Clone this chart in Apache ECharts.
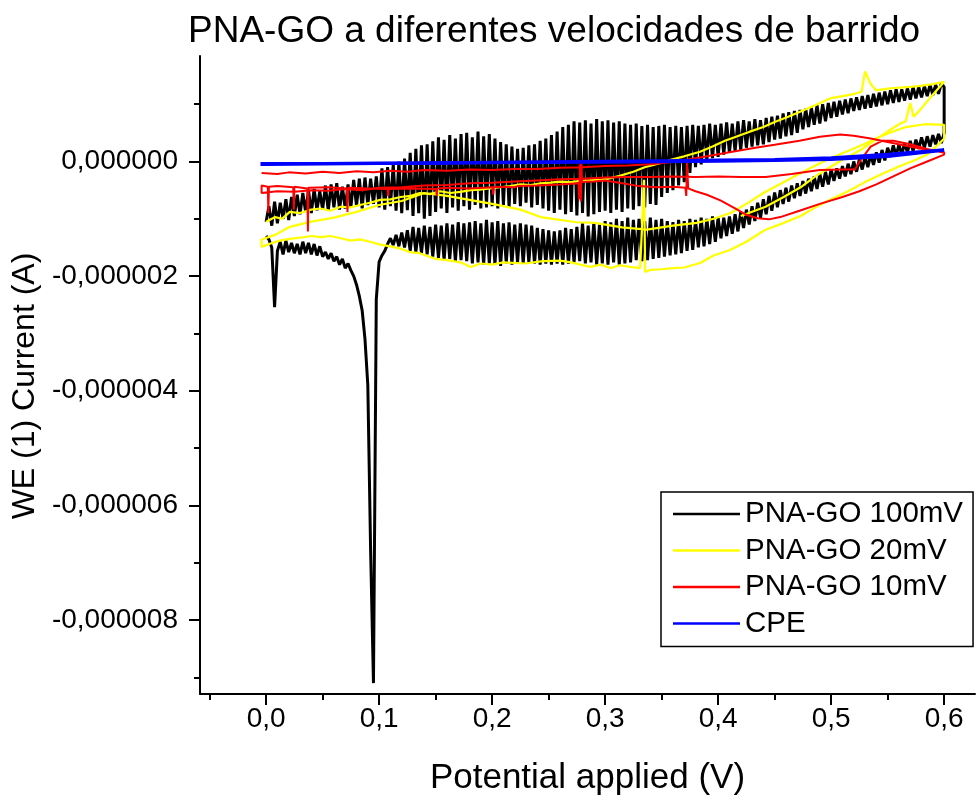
<!DOCTYPE html>
<html>
<head>
<meta charset="utf-8">
<title>PNA-GO a diferentes velocidades de barrido</title>
<script src="https://cdn.jsdelivr.net/npm/echarts@6/dist/echarts.min.js"></script>
<style>
  html, body { margin: 0; padding: 0; background: #fff; }
  #chart { width: 978px; height: 801px; }
</style>
</head>
<body>
<div id="chart"></div>
<script>
// Cyclic voltammograms of PNA-GO at three scan rates plus bare CPE.
// Currents are in microamperes; axis labels print them in amperes.

// 100 mV/s scan: currents on a uniform potential grid (V)
const blackStep = 0.0025;
const blackForward = [
  -1.05, -0.78, -1.12, -0.70, -1.08, -0.72, -1.00, -0.66, -1.02, -0.62,
  -0.95, -0.58, -0.92, -0.55, -0.88, -0.50, -0.90, -0.48, -0.85, -0.52,
  -0.84, -0.42, -0.86, -0.40, -0.80, -0.38, -0.84, -0.44, -0.82, -0.40,
  -0.80, -0.32, -0.78, -0.30, -0.82, -0.28, -0.76, -0.30, -0.74, -0.26,
  -0.80, -0.12, -0.84, -0.10, -0.78, -0.05, -0.86, 0.00, -0.90, 0.05,
  -0.85, 0.15, -0.95, 0.22, -0.90, 0.28, -1.00, 0.30, -0.95, 0.35,
  -0.88, 0.42, -0.82, 0.38, -0.90, 0.46, -0.80, 0.40, -0.86, 0.48,
  -0.78, 0.50, -0.84, 0.42, -0.76, 0.52, -0.82, 0.44, -0.80, 0.48,
  -0.78, 0.40, -0.82, 0.34, -0.76, 0.30, -0.80, 0.26, -0.74, 0.22,
  -0.78, 0.24, -0.72, 0.28, -0.80, 0.30, -0.76, 0.36, -0.82, 0.40,
  -0.86, 0.46, -0.90, 0.52, -0.84, 0.60, -0.92, 0.64, -0.88, 0.70,
  -0.94, 0.68, -0.90, 0.72, -0.96, 0.66, -0.92, 0.74, -0.88, 0.70,
  -0.86, 0.72, -0.90, 0.68, -0.84, 0.70, -0.88, 0.66, -0.82, 0.64,
  -0.84, 0.66, -0.78, 0.62, -0.80, 0.64, -0.74, 0.60, -0.76, 0.62,
  -0.62, 0.64, -0.55, 0.60, -0.50, 0.62, -0.42, 0.60, -0.36, 0.62,
  -0.20, 0.64, -0.10, 0.62, -0.05, 0.64, 0.02, 0.66, 0.06, 0.64,
  0.08, 0.66, 0.12, 0.68, 0.15, 0.66, 0.18, 0.70, 0.20, 0.72,
  0.24, 0.70, 0.26, 0.74, 0.28, 0.72, 0.30, 0.76, 0.34, 0.78,
  0.38, 0.80, 0.40, 0.84, 0.44, 0.86, 0.46, 0.88, 0.50, 0.90,
  0.56, 0.92, 0.60, 0.94, 0.64, 0.98, 0.66, 1.00, 0.70, 1.02,
  0.76, 1.04, 0.78, 1.06, 0.82, 1.08, 0.84, 1.10, 0.88, 1.12,
  0.90, 1.14, 0.92, 1.16, 0.94, 1.18, 0.96, 1.20, 0.98, 1.22,
  1.00, 1.24, 1.02, 1.26, 1.04, 1.26, 1.06, 1.28, 1.08, 1.30,
  1.10, 1.30, 1.12, 1.32, 1.14, 1.34, 1.16, 1.34, 1.18, 1.36,
  1.30
];
// return sweep, starting at 0.6 V and stepping down
const blackReverse = [
  0.50, 0.32, 0.48, 0.30, 0.46, 0.26, 0.44, 0.24, 0.42, 0.22,
  0.38, 0.18, 0.36, 0.16, 0.32, 0.12, 0.30, 0.10, 0.28, 0.08,
  0.24, 0.02, 0.20, -0.02, 0.16, -0.06, 0.12, -0.10, 0.08, -0.14,
  0.04, -0.18, 0.00, -0.22, -0.04, -0.26, -0.08, -0.30, -0.12, -0.34,
  -0.14, -0.40, -0.18, -0.44, -0.22, -0.48, -0.26, -0.52, -0.30, -0.56,
  -0.34, -0.60, -0.38, -0.64, -0.42, -0.70, -0.46, -0.74, -0.50, -0.80,
  -0.54, -0.86, -0.60, -0.92, -0.66, -0.98, -0.72, -1.04, -0.78, -1.10,
  -0.84, -1.16, -0.88, -1.22, -0.92, -1.26, -0.96, -1.30, -0.98, -1.34,
  -0.98, -1.40, -0.96, -1.44, -1.00, -1.48, -0.98, -1.50, -1.02, -1.54,
  -1.00, -1.56, -1.04, -1.60, -1.02, -1.62, -1.06, -1.64, -1.04, -1.66,
  -1.00, -1.68, -1.02, -1.70, -0.98, -1.72, -1.04, -1.74, -1.00, -1.72,
  -1.02, -1.76, -0.98, -1.78, -1.04, -1.80, -1.00, -1.76, -1.06, -1.80,
  -1.04, -1.78, -1.10, -1.80, -1.06, -1.76, -1.12, -1.78, -1.08, -1.74,
  -1.14, -1.76, -1.18, -1.78, -1.16, -1.80, -1.20, -1.78, -1.22, -1.80,
  -1.20, -1.78, -1.18, -1.80, -1.16, -1.78, -1.12, -1.76, -1.10, -1.78,
  -1.08, -1.76, -1.10, -1.80, -1.06, -1.78, -1.08, -1.82, -1.04, -1.80,
  -1.06, -1.78, -1.02, -1.80, -1.08, -1.76, -1.04, -1.78, -1.06, -1.74,
  -1.08, -1.72, -1.06, -1.74, -1.10, -1.70, -1.08, -1.72, -1.12, -1.68,
  -1.10, -1.66, -1.14, -1.62, -1.12, -1.60, -1.16, -1.58, -1.14, -1.56,
  -1.20, -1.50, -1.24, -1.48, -1.28, -1.46, -1.34, -1.44, -1.56, -1.64,
  -1.75, -2.40, -9.10, -6.80, -3.90, -3.10, -2.60, -2.35, -2.15, -2.00,
  -1.90, -1.78, -1.86, -1.70, -1.80, -1.66, -1.74, -1.60, -1.70, -1.58,
  -1.66, -1.48, -1.64, -1.44, -1.62, -1.42, -1.60, -1.40, -1.62, -1.44,
  -1.60, -1.42, -1.58, -1.38, -1.62, -1.40, -1.56, -2.54, -1.50, -1.36,
  -1.30
];

// 20 mV/s scan: [potential V, current µA] in sweep order
const yellowUpper = [
  [0.000, -1.05], [0.008, -0.97], [0.014, -1.00], [0.021, -0.88], [0.030, -0.90],
  [0.040, -0.84], [0.048, -0.82], [0.057, -0.86], [0.066, -0.79], [0.075, -0.80],
  [0.083, -0.76], [0.092, -0.72], [0.101, -0.67], [0.110, -0.66], [0.119, -0.62],
  [0.128, -0.60], [0.136, -0.55], [0.145, -0.57], [0.154, -0.52], [0.163, -0.55],
  [0.172, -0.53], [0.181, -0.50], [0.189, -0.49], [0.198, -0.47], [0.207, -0.45],
  [0.216, -0.43], [0.225, -0.40], [0.234, -0.41], [0.243, -0.38], [0.252, -0.37],
  [0.260, -0.35], [0.270, -0.36], [0.278, -0.34], [0.287, -0.33], [0.296, -0.32],
  [0.305, -0.29], [0.313, -0.25], [0.325, -0.18], [0.335, -0.10], [0.347, -0.04],
  [0.358, 0.03], [0.370, 0.09], [0.384, 0.17], [0.395, 0.26], [0.406, 0.36],
  [0.417, 0.44], [0.428, 0.52], [0.440, 0.60], [0.450, 0.69], [0.462, 0.78],
  [0.473, 0.87], [0.486, 0.98], [0.499, 1.10], [0.510, 1.14], [0.521, 1.18],
  [0.527, 1.22], [0.530, 1.57], [0.535, 1.35], [0.540, 1.24], [0.550, 1.27],
  [0.561, 1.29], [0.570, 1.30], [0.579, 1.32], [0.590, 1.35], [0.600, 1.39]
];
const yellowMiddle = [
  [0.600, 1.37], [0.596, 1.30], [0.588, 1.12], [0.580, 0.93], [0.573, 0.78],
  [0.570, 1.02], [0.566, 0.70], [0.561, 0.66], [0.552, 0.55], [0.543, 0.43],
  [0.530, 0.31], [0.517, 0.20], [0.500, 0.06], [0.484, -0.09], [0.462, -0.32],
  [0.440, -0.55], [0.425, -0.74], [0.411, -0.90], [0.396, -1.00], [0.381, -1.07],
  [0.360, -1.12], [0.337, -1.19], [0.315, -1.15], [0.291, -1.07], [0.275, -1.06],
  [0.260, -1.02], [0.243, -0.97], [0.225, -0.84], [0.200, -0.74], [0.180, -0.67],
  [0.160, -0.60], [0.140, -0.55], [0.120, -0.69], [0.100, -0.76], [0.080, -0.88],
  [0.060, -0.98], [0.040, -1.05], [0.021, -1.14], [0.008, -1.28], [-0.004, -1.36]
];
const yellowLower = [
  [-0.004, -1.49], [0.004, -1.43], [0.012, -1.38], [0.021, -1.35], [0.030, -1.33],
  [0.040, -1.30], [0.048, -1.32], [0.057, -1.30], [0.066, -1.34], [0.075, -1.38],
  [0.083, -1.36], [0.092, -1.40], [0.101, -1.45], [0.110, -1.48], [0.119, -1.52],
  [0.127, -1.58], [0.136, -1.60], [0.150, -1.70], [0.160, -1.72], [0.172, -1.76],
  [0.181, -1.84], [0.190, -1.78], [0.200, -1.80], [0.210, -1.76], [0.229, -1.78],
  [0.245, -1.74], [0.260, -1.73], [0.270, -1.76], [0.278, -1.80], [0.287, -1.84],
  [0.296, -1.80], [0.305, -1.86], [0.313, -1.81], [0.322, -1.84], [0.331, -1.86],
  [0.3345, -0.32], [0.3354, -1.93], [0.340, -1.89], [0.350, -1.88], [0.360, -1.86],
  [0.370, -1.85], [0.384, -1.77], [0.396, -1.64], [0.410, -1.55], [0.425, -1.40],
  [0.442, -1.19], [0.457, -1.08], [0.473, -0.95], [0.486, -0.80], [0.500, -0.66],
  [0.515, -0.52], [0.530, -0.36], [0.545, -0.22], [0.561, -0.08], [0.575, 0.03],
  [0.585, 0.12], [0.594, 0.28], [0.600, 0.40]
];
const yellowTail = [
  [0.600, 0.64], [0.583, 0.65], [0.566, 0.60], [0.552, 0.50], [0.543, 0.43],
  [0.526, 0.20], [0.510, 0.03], [0.499, -0.10], [0.486, -0.26], [0.473, -0.45],
  [0.458, -0.62], [0.442, -0.79], [0.420, -0.95]
];

// 10 mV/s scan: [potential V, current µA] in sweep order
const redUpper = [
  [-0.004, -0.20], [0.010, -0.22], [0.020, -0.19], [0.035, -0.21], [0.050, -0.18],
  [0.065, -0.20], [0.080, -0.17], [0.095, -0.19], [0.110, -0.16], [0.125, -0.18],
  [0.140, -0.15], [0.160, -0.16], [0.180, -0.14], [0.200, -0.15], [0.220, -0.13],
  [0.240, -0.13], [0.260, -0.11], [0.280, -0.10], [0.300, -0.08], [0.320, -0.07],
  [0.340, -0.05], [0.360, -0.01], [0.384, 0.07], [0.410, 0.16], [0.433, 0.24],
  [0.450, 0.29], [0.472, 0.36], [0.490, 0.43], [0.508, 0.47], [0.520, 0.45],
  [0.535, 0.40], [0.550, 0.34], [0.565, 0.28], [0.580, 0.22], [0.600, 0.16]
];
const redLower = [
  [0.600, 0.12], [0.585, 0.00], [0.570, -0.12], [0.555, -0.26], [0.540, -0.40],
  [0.525, -0.52], [0.510, -0.62], [0.490, -0.74], [0.472, -0.86], [0.455, -0.97],
  [0.445, -1.01], [0.435, -0.99], [0.425, -0.93], [0.415, -0.82], [0.402, -0.68],
  [0.390, -0.58], [0.380, -0.52], [0.3735, -0.47], [0.3725, -0.02], [0.3718, -0.60],
  [0.371, -0.46], [0.360, -0.44], [0.345, -0.45], [0.330, -0.43], [0.315, -0.38],
  [0.300, -0.33], [0.290, -0.35], [0.2795, -0.36], [0.2790, -0.02], [0.2785, -0.70],
  [0.2778, -0.05], [0.2770, -0.66], [0.2765, -0.38], [0.260, -0.40], [0.240, -0.42],
  [0.2225, -0.43], [0.220, -0.45], [0.2015, -0.44], [0.2010, -0.58], [0.2005, -0.45],
  [0.180, -0.47], [0.160, -0.46], [0.1515, -0.47], [0.1510, -0.60], [0.1505, -0.48],
  [0.130, -0.47], [0.1085, -0.48], [0.1080, -0.60], [0.1075, -0.48], [0.090, -0.47],
  [0.0725, -0.46], [0.0720, -0.88], [0.0715, -0.47], [0.055, -0.45], [0.0375, -0.46],
  [0.0370, -1.22], [0.0365, -0.47], [0.025, -0.44], [0.0245, -0.84], [0.0240, -0.45],
  [0.010, -0.43], [0.0025, -0.44], [0.0020, -0.90], [0.0015, -0.44], [-0.004, -0.42]
];
const redMiddle = [
  [-0.004, -0.55], [0.010, -0.52], [0.025, -0.53], [0.040, -0.50], [0.055, -0.51],
  [0.070, -0.48], [0.085, -0.50], [0.100, -0.46], [0.120, -0.45], [0.140, -0.42],
  [0.160, -0.41], [0.180, -0.38], [0.200, -0.37], [0.220, -0.35], [0.240, -0.33],
  [0.260, -0.31], [0.280, -0.30], [0.300, -0.28], [0.320, -0.27], [0.340, -0.27],
  [0.360, -0.26], [0.380, -0.27], [0.400, -0.26], [0.420, -0.27], [0.442, -0.27],
  [0.465, -0.22], [0.490, -0.15], [0.510, -0.14], [0.521, -0.14], [0.526, 0.02],
  [0.535, 0.26], [0.545, 0.36], [0.555, 0.36], [0.570, 0.30], [0.585, 0.22],
  [0.600, 0.15]
];

// bare carbon paste electrode
const blueCPE = [
  [-0.005, -0.04], [0.05, -0.04], [0.10, -0.03], [0.15, -0.03], [0.20, -0.02],
  [0.25, -0.01], [0.30, 0.00], [0.35, 0.01], [0.40, 0.02], [0.45, 0.03],
  [0.50, 0.06], [0.55, 0.12], [0.60, 0.20], [0.60, 0.17], [0.55, 0.09],
  [0.50, 0.04], [0.45, 0.02], [0.40, 0.01], [0.30, -0.01], [0.20, -0.02],
  [0.10, -0.03], [0.00, -0.05], [-0.005, -0.05]
];

const seriesNames = ['PNA-GO 100mV', 'PNA-GO 20mV', 'PNA-GO 10mV', 'CPE'];
const xMajorTicks = [0, 0.1, 0.2, 0.3, 0.4, 0.5, 0.6];
const xMinorTicks = [-0.05, 0.05, 0.15, 0.25, 0.35, 0.45, 0.55];
const yMajorTicks = [-8, -6, -4, -2, 0];
const yMinorTicks = [-9, -7, -5, -3, -1, 1];

const FONT = '"Liberation Sans", Arial, Helvetica, sans-serif';

const blackData = blackForward.map((c, i) => [+(i * blackStep).toFixed(4), c])
  .concat(blackReverse.map((c, i) => [+(0.6 - i * blackStep).toFixed(4), c]));
const yellowData = yellowUpper.concat(yellowMiddle, yellowLower, yellowTail);
const redData = redUpper.concat(redLower, redMiddle);

const X_MIN = -0.0585, X_MAX = 0.6273;
const Y_MIN = -9.29, Y_MAX = 1.84;

const fmtX = v => v.toFixed(1).replace('.', ',');
const fmtY = v => (v * 1e-6).toFixed(6).replace('.', ',');

const chart = echarts.init(document.getElementById('chart'), null, { renderer: 'canvas' });
chart.setOption({
  animation: false,
  backgroundColor: '#ffffff',
  title: {
    text: 'PNA-GO a diferentes velocidades de barrido',
    left: 183, top: 8,
    textStyle: { fontFamily: FONT, fontSize: 37, fontWeight: 'normal', color: '#000' }
  },
  grid: { left: 200, right: 3, top: 56, bottom: 107, containLabel: false, outerBoundsMode: 'none' },
  legend: {
    orient: 'vertical', left: 661, top: 492,
    icon: 'rect', itemWidth: 67, itemHeight: 2.5, itemGap: 6.5,
    padding: [7, 10, 8, 12],
    borderColor: '#000', borderWidth: 1.5,
    textStyle: { fontFamily: FONT, fontSize: 29.5, color: '#000', lineHeight: 29 },
    data: seriesNames
  },
  xAxis: [
    {
      type: 'value', min: X_MIN, max: X_MAX, position: 'bottom',
      name: 'Potential applied (V)', nameLocation: 'middle', nameGap: 67,
      nameTextStyle: { fontFamily: FONT, fontSize: 35, color: '#000' },
      axisLine: { show: true, onZero: false, lineStyle: { color: '#000', width: 2 } },
      axisTick: { show: true, length: 11, customValues: xMajorTicks, lineStyle: { color: '#000', width: 2 } },
      axisLabel: { customValues: xMajorTicks, formatter: fmtX, fontFamily: FONT, fontSize: 28, color: '#000', margin: 11 },
      splitLine: { show: false }
    },
    {
      type: 'value', min: X_MIN, max: X_MAX, position: 'bottom',
      axisLine: { show: false, onZero: false },
      axisTick: { show: true, length: 6, customValues: xMinorTicks, lineStyle: { color: '#000', width: 2 } },
      axisLabel: { show: false }, splitLine: { show: false }
    }
  ],
  yAxis: [
    {
      type: 'value', min: Y_MIN, max: Y_MAX, position: 'left',
      name: 'WE (1) Current (A)', nameLocation: 'middle', nameGap: 150,
      nameTextStyle: { fontFamily: FONT, fontSize: 32, color: '#000', padding: [0, 22, 0, 0] },
      axisLine: { show: true, onZero: false, lineStyle: { color: '#000', width: 2 } },
      axisTick: { show: true, length: 11, customValues: yMajorTicks, lineStyle: { color: '#000', width: 2 } },
      axisLabel: { customValues: yMajorTicks, formatter: fmtY, fontFamily: FONT, fontSize: 28, color: '#000', margin: 22 },
      splitLine: { show: false }
    },
    {
      type: 'value', min: Y_MIN, max: Y_MAX, position: 'left',
      axisLine: { show: false, onZero: false },
      axisTick: { show: true, length: 6, customValues: yMinorTicks, lineStyle: { color: '#000', width: 2 } },
      axisLabel: { show: false }, splitLine: { show: false }
    }
  ],
  series: [
    { name: seriesNames[0], type: 'line', data: blackData, color: '#000000',
      showSymbol: false, symbol: 'none', sampling: null, lineStyle: { width: 3 } },
    { name: seriesNames[1], type: 'line', data: yellowData, color: '#ffff00',
      showSymbol: false, symbol: 'none', lineStyle: { width: 2.2 } },
    { name: seriesNames[2], type: 'line', data: redData, color: '#ff0000',
      showSymbol: false, symbol: 'none', lineStyle: { width: 2 } },
    { name: seriesNames[3], type: 'line', data: blueCPE, color: '#0000ff',
      showSymbol: false, symbol: 'none', lineStyle: { width: 3.5 } }
  ]
});
</script>
</body>
</html>
